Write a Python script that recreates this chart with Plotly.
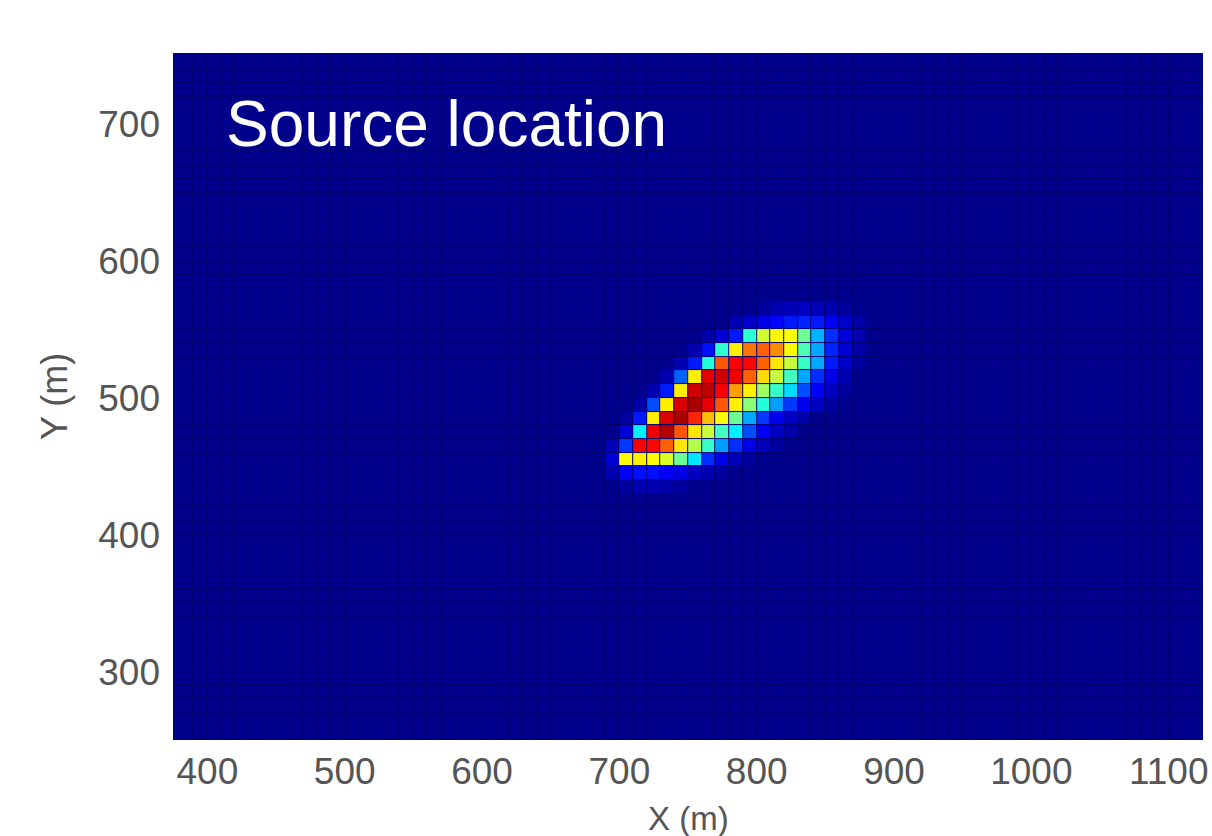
import numpy as np
import plotly.graph_objects as go

# Grid of cell centres (10 m cells)
x_centers = np.arange(375, 1126, 10)
y_centers = np.arange(245, 756, 10)

# Non-background patch: columns x = 695 .. 875 (step 10)
patch_cols = [695, 705, 715, 725, 735, 745, 755, 765, 775, 785, 795, 805, 815, 825, 835, 845, 855, 865, 875]
row_565 = [0, 0, 0, 0, 0, 0, 0, 0, 0, 0, 0, 0.02, 0.04, 0.05, 0.06, 0.05, 0.04, 0.02, 0]
row_555 = [0, 0, 0, 0, 0, 0, 0, 0, 0, 0.04, 0.07, 0.10, 0.13, 0.15, 0.16, 0.15, 0.12, 0.07, 0.03]
row_545 = [0, 0, 0, 0, 0, 0, 0, 0.03, 0.08, 0.15, 0.42, 0.58, 0.63, 0.62, 0.48, 0.30, 0.17, 0.09, 0.04]
row_535 = [0, 0, 0, 0, 0, 0, 0.04, 0.14, 0.42, 0.64, 0.76, 0.78, 0.74, 0.63, 0.45, 0.29, 0.16, 0.08, 0.03]
row_525 = [0, 0, 0, 0, 0, 0.04, 0.15, 0.41, 0.79, 0.88, 0.87, 0.78, 0.65, 0.57, 0.43, 0.29, 0.15, 0.07, 0.02]
row_515 = [0, 0, 0, 0, 0.04, 0.22, 0.64, 0.90, 0.92, 0.89, 0.78, 0.66, 0.57, 0.44, 0.29, 0.17, 0.10, 0.04, 0]
row_505 = [0, 0, 0, 0.04, 0.15, 0.64, 0.92, 0.94, 0.88, 0.72, 0.64, 0.53, 0.43, 0.34, 0.20, 0.12, 0.06, 0.02, 0]
row_495 = [0, 0, 0.03, 0.20, 0.64, 0.91, 0.96, 0.90, 0.79, 0.64, 0.51, 0.41, 0.28, 0.18, 0.11, 0.06, 0.02, 0, 0]
row_485 = [0, 0.02, 0.15, 0.64, 0.91, 0.96, 0.84, 0.69, 0.63, 0.48, 0.29, 0.18, 0.11, 0.06, 0.03, 0, 0, 0, 0]
row_475 = [0, 0.08, 0.36, 0.89, 0.95, 0.79, 0.65, 0.57, 0.44, 0.36, 0.20, 0.12, 0.06, 0.03, 0, 0, 0, 0, 0]
row_465 = [0.05, 0.18, 0.88, 0.87, 0.78, 0.65, 0.55, 0.43, 0.28, 0.17, 0.10, 0.05, 0.02, 0, 0, 0, 0, 0, 0]
row_455 = [0.08, 0.63, 0.64, 0.63, 0.59, 0.48, 0.35, 0.17, 0.10, 0.05, 0.02, 0, 0, 0, 0, 0, 0, 0, 0]
row_445 = [0.04, 0.12, 0.14, 0.14, 0.12, 0.10, 0.06, 0.04, 0.02, 0, 0, 0, 0, 0, 0, 0, 0, 0, 0]
row_435 = [0, 0.02, 0.04, 0.04, 0.03, 0.02, 0, 0, 0, 0, 0, 0, 0, 0, 0, 0, 0, 0, 0]
patch_rows = {565: row_565, 555: row_555, 545: row_545, 535: row_535, 525: row_525,
              515: row_515, 505: row_505, 495: row_495, 485: row_485, 475: row_475,
              465: row_465, 455: row_455, 445: row_445, 435: row_435}

x_ticks = [400, 500, 600, 700, 800, 900, 1000, 1100]
y_ticks = [300, 400, 500, 600, 700]

z = np.zeros((len(y_centers), len(x_centers)))
for yv, vals in patch_rows.items():
    iy = int(np.where(y_centers == yv)[0][0])
    for xv, v in zip(patch_cols, vals):
        ix = int(np.where(x_centers == xv)[0][0])
        z[iy, ix] = v

jet = [[0.0, "#00008C"], [0.125, "#0000FF"], [0.375, "#00FFFF"],
       [0.625, "#FFFF00"], [0.875, "#FF0000"], [1.0, "#800000"]]

fig = go.Figure(go.Heatmap(x=x_centers, y=y_centers, z=z, colorscale=jet,
                           zmin=0, zmax=1, showscale=False, xgap=1, ygap=1,
                           hoverinfo="skip"))

FONT = "Liberation Sans, Arial, sans-serif"
font_tick = dict(family=FONT, size=37, color="#555555")

fig.update_layout(
    width=1212, height=836,
    margin=dict(l=173, r=9, t=53, b=96),
    paper_bgcolor="white", plot_bgcolor="#000070",
    xaxis=dict(range=[375, 1125], tickvals=x_ticks, ticktext=[str(t) for t in x_ticks],
               tickfont=font_tick, showgrid=False, zeroline=False, ticks="",
               ticklabelstandoff=6, automargin=False),
    yaxis=dict(range=[250, 752], tickvals=y_ticks, ticktext=[str(t) for t in y_ticks],
               tickfont=font_tick, showgrid=False, zeroline=False, ticks="",
               ticklabelstandoff=12, automargin=False),
    annotations=[
        dict(text="Source location", x=412, y=700, xref="x", yref="y",
             xanchor="left", yanchor="middle", showarrow=False,
             font=dict(family=FONT, size=64, color="white")),
        dict(text="X (m)", x=0.5, y=-0.085, xref="paper", yref="paper",
             xanchor="center", yanchor="top", showarrow=False,
             font=dict(family=FONT, size=33, color="#555555")),
        dict(text="Y (m)", x=-0.115, y=0.5, xref="paper", yref="paper", textangle=-90,
             xanchor="center", yanchor="middle", showarrow=False,
             font=dict(family=FONT, size=36, color="#555555")),
    ],
)

fig.write_html("out.html", config={"displayModeBar": False},
               post_script="document.body.style.margin='0px';document.body.style.overflow='hidden';")
